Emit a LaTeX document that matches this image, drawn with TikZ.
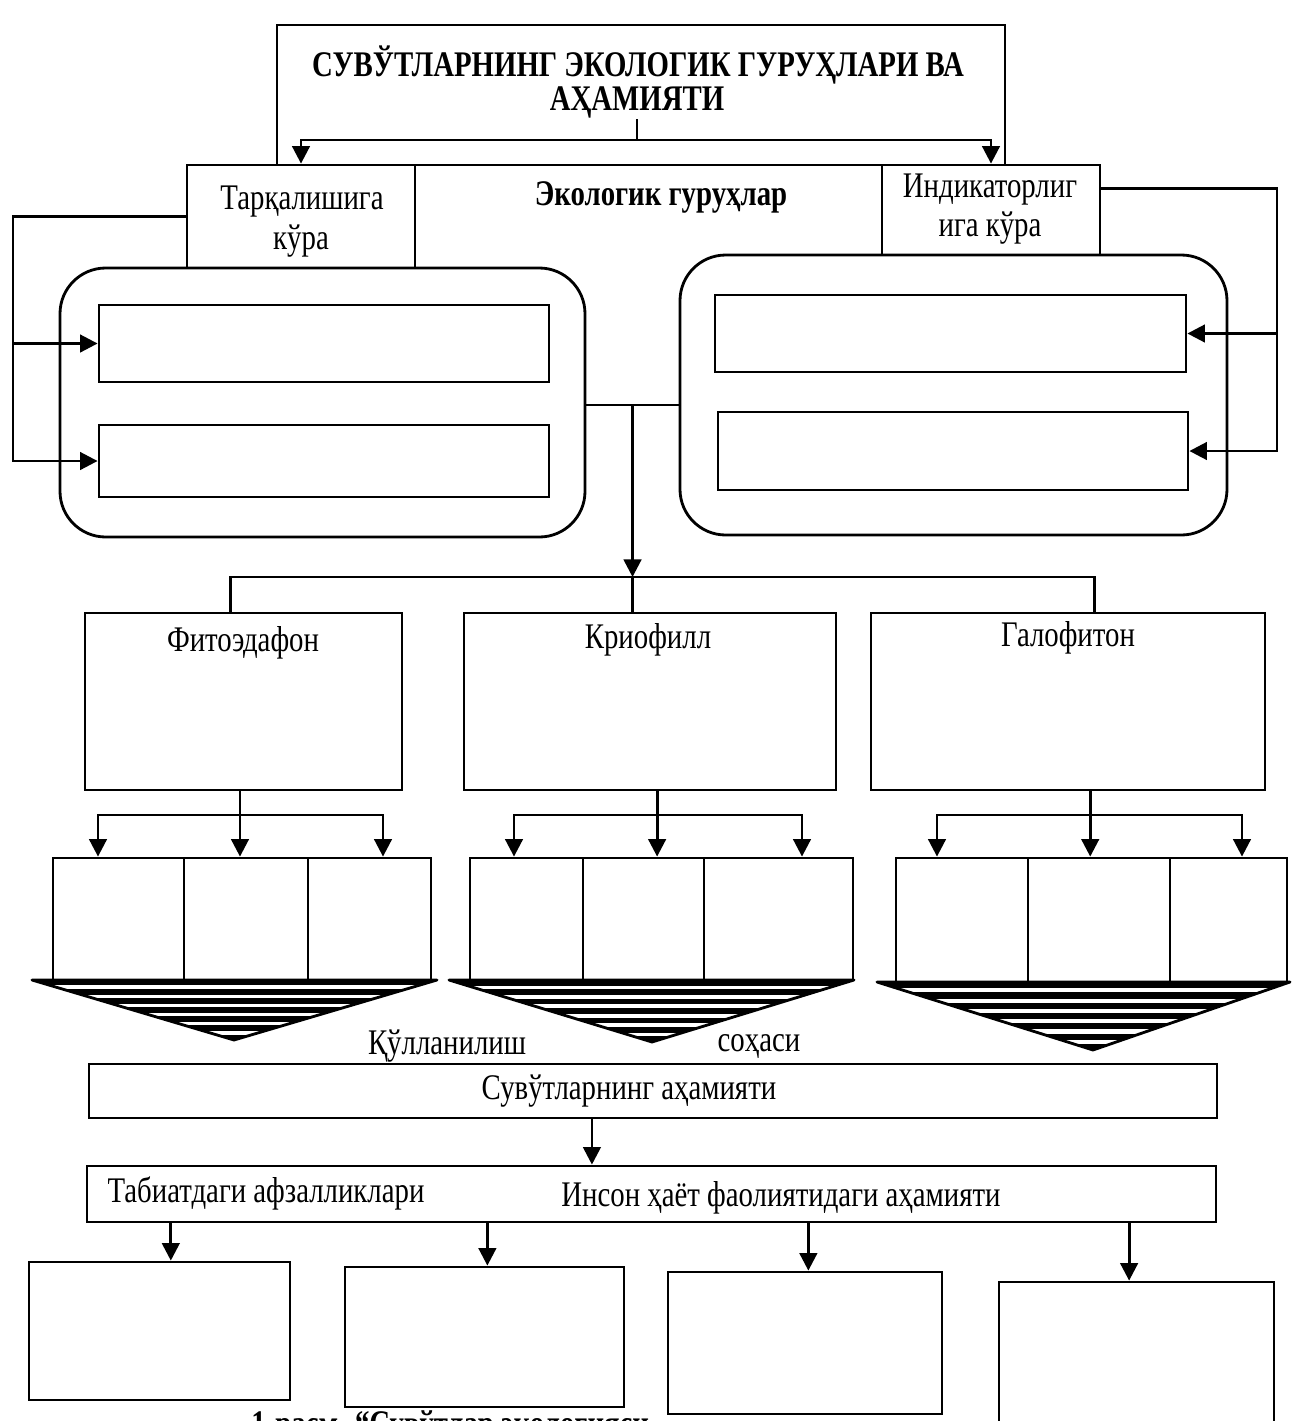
\documentclass[tikz,border=0pt]{standalone}
\usepackage{fontspec}
\setmainfont{Liberation Serif}[FakeStretch=0.8]
\usetikzlibrary{arrows.meta,calc,fit}
% #1 left x, #2 right x, #3 top y, #4 apex x, #5 apex y, #6 name prefix
\newcommand\stripetri[6]{%
  \begin{scope}
    \clip (#1,#3) -- (#2,#3) -- (#4,#5) -- cycle;
    \foreach \i in {0,...,6}
      \fill ({#1},{#3+\i*2.5*(#5-#3)/16.5}) rectangle ({#2},{#3+(\i*2.5+1.5)*(#5-#3)/16.5});
  \end{scope}
  \draw[line join=round] (#1,#3) coordinate (#6a) -- (#2,#3) coordinate (#6b) -- (#4,#5) coordinate (#6c) -- cycle;}
\begin{document}
\begin{tikzpicture}[x=0.02cm,y=-0.02cm,line width=1.6pt,
  bx/.style={draw,line width=1.6pt,fill=white,inner sep=0pt},
  rbx/.style={bx,rounded corners=26pt},
  arr/.style={-{Triangle[length=10pt,width=10pt]},line width=1.6pt},
  lbl/.style={font=\fontsize{20.5}{24}\selectfont,inner sep=0pt},
  blbl/.style={font=\fontsize{20.5}{24}\selectfont\bfseries,inner sep=0pt}]
\useasboundingbox[fill=white] (0,0) rectangle (1293,1421);
\clip (0,0) rectangle (1293,1421);

% ---- top title
\node[bx,fit={(277,25)(1005,165)}] (ttl) {};
\node[blbl] (tt1) at (638,65) {СУВЎТЛАРНИНГ ЭКОЛОГИК ГУРУҲЛАРИ ВА};
\node[blbl] (tt2) at (637,102) {АҲАМИЯТИ};

% ---- second row
\node[bx,fit={(415,165)(882,405)}] (eko) {};
\node[bx,fit={(187,165)(415,268)}] (tar) {};
\node[bx,fit={(882,165)(1100,255)}] (ind) {};
\node[rbx,fit={(60,268)(585,537)}] (lgrp) {};
\node[rbx,fit={(680,255)(1227,535)}] (rgrp) {};
\node[bx,fit={(99,305)(549,382)}] (l1) {};
\node[bx,fit={(99,425)(549,497)}] (l2) {};
\node[bx,fit={(715,295)(1186,372)}] (r1) {};
\node[bx,fit={(718,412)(1188,490)}] (r2) {};
\node[lbl] (tar1) at (302,202) {Тарқалишига};
\node[lbl] (tar2) at (301,241) {кўра};
\node[blbl] (ekot) at (661,197) {Экологик гуруҳлар};
\node[lbl] (ind1) at (990,190) {Индикаторлиг};
\node[lbl] (ind2) at (990,228) {ига кўра};

% ---- third row
\node[bx,fit={(85,613)(402,790)}] (fito) {};
\node[bx,fit={(464,613)(836,790)}] (krio) {};
\node[bx,fit={(871,613)(1265,790)}] (galo) {};
\node[lbl] (fitot) at (243,643) {Фитоэдафон};
\node[lbl] (kriot) at (648,640) {Криофилл};
\node[lbl] (galot) at (1068,638) {Галофитон};

% ---- fourth row
\node[bx,fit={(53,858)(184,980)}] (g11) {};
\node[bx,fit={(184,858)(308,980)}] (g12) {};
\node[bx,fit={(308,858)(431,980)}] (g13) {};
\node[bx,fit={(470,858)(583,980)}] (g21) {};
\node[bx,fit={(583,858)(704,980)}] (g22) {};
\node[bx,fit={(704,858)(853,980)}] (g23) {};
\node[bx,fit={(896,858)(1028,982)}] (g31) {};
\node[bx,fit={(1028,858)(1170,982)}] (g32) {};
\node[bx,fit={(1170,858)(1287,982)}] (g33) {};
\stripetri{32}{437}{980}{234}{1040}{ta}
\stripetri{449}{854}{980}{652}{1042}{tb}
\stripetri{877}{1290}{982}{1093}{1050}{tc}
\node[lbl] (kul) at (447,1046) {Қўлланилиш};
\node[lbl] (soh) at (759,1046) {соҳаси};

% ---- lower part
\node[bx,fit={(89,1064)(1217,1118)}] (ahm) {};
\node[lbl] (ahmt) at (629,1091) {Сувўтларнинг аҳамияти};
\node[bx,fit={(87,1166)(1216,1222)}] (tab) {};
\node[lbl] (tabt) at (266,1193) {Табиатдаги афзалликлари};
\node[lbl] (inst) at (781,1198) {Инсон ҳаёт фаолиятидаги аҳамияти};
\node[blbl,anchor=north west] (cap) at (250,1409) {1-расм. “Сувўтлар экологияси};
\node[bx,fit={(29,1262)(290,1400)}] (b1) {};
\node[bx,fit={(345,1267)(624,1407)}] (b2) {};
\node[bx,fit={(668,1272)(942,1414)}] (b3) {};
\node[bx,fit={(999,1282)(1274,1440)}] (b4) {};

% ---- connectors
\coordinate (j1) at (637,140);
\draw (tt2.south) -- (j1);
\draw[arr] (j1) -| (tar.north);
\draw[arr] (j1) -| (ind.north);

\coordinate (lx) at (13,0);
\draw[arr] (tar.west) -| (lx |- l2.west) -- (l2.west);
\draw[arr] (lx |- l1.west) -- (l1.west);
\coordinate (ie) at ($(ind.north east)!0.27!(ind.south east)$);
\coordinate (rx) at (1277,0);
\draw[arr] (ie) -| (rx |- r2.east) -- (r2.east);
\draw[arr] (rx |- r1.east) -- (r1.east);

\coordinate (s1) at ($(eko.south west)!0.466!(eko.south east)$);
\coordinate (hy) at (0,577);
\coordinate (j2) at (s1 |- hy);
\draw[arr] (s1) -- (j2);
\coordinate (ft) at ($(fito.north west)!0.46!(fito.north east)$);
\coordinate (gt) at ($(galo.north west)!0.566!(galo.north east)$);
\draw (ft) |- (j2) -| (gt);
\draw (j2) -- (j2 |- krio.north);

% fito
\coordinate (fb) at ($(fito.south west)!0.489!(fito.south east)$);
\coordinate (h1a) at (98,815);
\coordinate (h1c) at (383,815);
\draw[arr] (fb) -- (fb |- g12.north);
\draw[arr] (h1c) -| (h1a |- g11.north);
\draw[arr] (h1a) -| (h1c |- g13.north);
% krio
\coordinate (kb) at ($(krio.south west)!0.519!(krio.south east)$);
\coordinate (h2a) at (514,815);
\coordinate (h2c) at (802,815);
\draw[arr] (kb) -- (kb |- g22.north);
\draw[arr] (h2c) -| (h2a |- g21.north);
\draw[arr] (h2a) -| (h2c |- g23.north);
% galo
\coordinate (gb) at ($(galo.south west)!0.556!(galo.south east)$);
\coordinate (h3a) at (937,815);
\coordinate (h3c) at (1242,815);
\draw[arr] (gb) -- (gb |- g32.north);
\draw[arr] (h3c) -| (h3a |- g31.north);
\draw[arr] (h3a) -| (h3c |- g33.north);

\coordinate (as) at ($(ahm.south west)!0.446!(ahm.south east)$);
\draw[arr] (as) -- (as |- tab.north);
\coordinate (p1) at ($(tab.south west)!0.0753!(tab.south east)$);
\coordinate (p2) at ($(tab.south west)!0.355!(tab.south east)$);
\coordinate (p3) at ($(tab.south west)!0.6386!(tab.south east)$);
\coordinate (p4) at ($(tab.south west)!0.922!(tab.south east)$);
\draw[arr] (p1) -- (p1 |- b1.north);
\draw[arr] (p2) -- (p2 |- b2.north);
\draw[arr] (p3) -- (p3 |- b3.north);
\draw[arr] (p4) -- (p4 |- b4.north);
\end{tikzpicture}
\end{document}
